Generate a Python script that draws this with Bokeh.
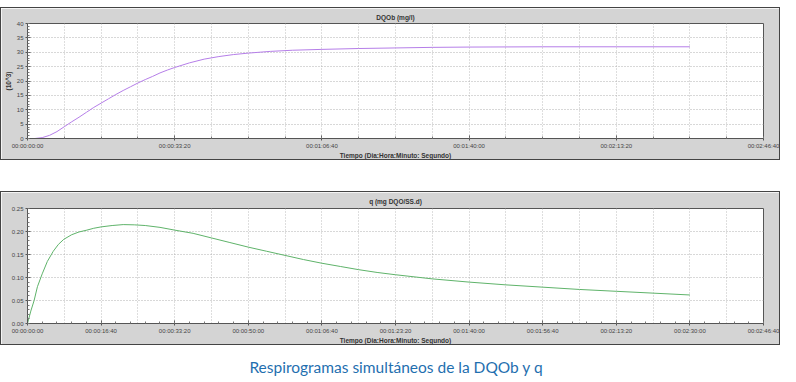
from bokeh.plotting import figure
from bokeh.models import FixedTicker, Range1d, Div, Spacer, PrintfTickFormatter
from bokeh.layouts import column
from bokeh.embed import file_html
from bokeh.resources import INLINE

# ---- data (seconds, values) ----
t_dqo = [0, 100, 200, 300, 400, 500, 600, 700, 800, 900, 1000, 1100, 1200,
         1300, 1400, 1500, 1600, 1700, 1800, 1900, 2000, 2200, 2400, 2600,
         2800, 3000, 3300, 3600, 4000, 4500, 5000, 5500, 6000, 7000, 8000, 9000]
dqo = [0, 0, 0.3, 1.1, 2.4, 4.1, 5.8, 7.4, 9.1, 10.8, 12.3, 13.8, 15.3,
       16.7, 18.0, 19.3, 20.5, 21.6, 22.8, 23.8, 24.7, 26.3, 27.6, 28.5,
       29.2, 29.7, 30.3, 30.7, 31.0, 31.3, 31.5, 31.7, 31.8, 31.9, 31.9, 31.9]

t_q = [0, 45, 90, 135, 200, 270, 350, 420, 493, 600, 700, 807, 900, 1000,
       1150, 1300, 1450, 1600, 1800, 2000, 2250, 2500, 2750, 3000, 3250, 3500,
       3750, 4000, 4250, 4500, 4750, 5000, 5500, 6000, 6500, 7000, 7500, 8000,
       8500, 9000]
q = [0, 0.027, 0.05, 0.08, 0.108, 0.135, 0.157, 0.172, 0.183, 0.193, 0.199,
     0.203, 0.207, 0.210, 0.213, 0.215, 0.2145, 0.213, 0.209, 0.203, 0.196,
     0.186, 0.176, 0.166, 0.157, 0.148, 0.139, 0.131, 0.124, 0.117, 0.111,
     0.106, 0.097, 0.090, 0.084, 0.079, 0.074, 0.070, 0.066, 0.062]

top_xticks = [0, 2000, 4000, 6000, 8000, 10000]
top_xlabels = ["00:00:00:00", "00:00:33:20", "00:01:06:40", "00:01:40:00",
               "00:02:13:20", "00:02:46:40"]
bot_xticks = [0, 1000, 2000, 3000, 4000, 5000, 6000, 7000, 8000, 9000, 10000]
bot_xlabels = ["00:00:00:00", "00:00:16:40", "00:00:33:20", "00:00:50:00",
               "00:01:06:40", "00:01:23:20", "00:01:40:00", "00:01:56:40",
               "00:02:13:20", "00:02:30:00", "00:02:46:40"]
top_yticks = [0, 5, 10, 15, 20, 25, 30, 35, 40]
bot_yticks = [0, 0.05, 0.10, 0.15, 0.20, 0.25]

FONT = "Liberation Sans"
PANEL = "#d4d4d4"


def make_fig(title, ylabel, xticks, xlabels, xminor, yticks, yminor, ymax,
             fw, fh, lb, rb, tb, bb, tstand):
    p = figure(width=fw + lb + rb, height=fh + tb + bb,
               x_range=Range1d(0, 10000), y_range=Range1d(0, ymax),
               output_backend="svg", toolbar_location=None,
               min_border_left=lb, min_border_right=rb,
               min_border_top=tb, min_border_bottom=bb,
               background_fill_color="white", border_fill_color=PANEL,
               outline_line_color="#555555",
               styles={"border": "1px solid #444444"})
    p.title.text = title
    p.title.align = "center"
    p.title.text_font = FONT
    p.title.text_font_size = "6.5px"
    p.title.text_font_style = "bold"
    p.title.text_color = "#333333"
    p.title.standoff = tstand
    p.title.offset = 0

    xa = p.xaxis[0]
    xa.ticker = FixedTicker(ticks=xticks, minor_ticks=xminor)
    xa.major_label_overrides = {t: l for t, l in zip(xticks, xlabels)}
    xa.axis_label = "Tiempo (Dia:Hora:Minuto: Segundo)"
    xa.axis_label_text_font = FONT
    xa.axis_label_text_font_size = "6.5px"
    xa.axis_label_text_font_style = "bold"
    xa.axis_label_text_color = "#333333"
    xa.axis_label_standoff = 0

    ya = p.yaxis[0]
    ya.ticker = FixedTicker(ticks=yticks, minor_ticks=yminor)
    if ylabel:
        ya.axis_label = ylabel
        ya.axis_label_text_font = FONT
        ya.axis_label_text_font_size = "6.5px"
        ya.axis_label_text_font_style = "bold"
        ya.axis_label_text_color = "#333333"
        ya.axis_label_standoff = 2

    for ax in (xa, ya):
        ax.major_label_text_font = FONT
        ax.major_label_text_font_size = "6px"
        ax.major_label_text_color = "#444444"
        ax.major_label_standoff = 2
        ax.axis_line_color = "#555555"
        ax.major_tick_line_color = "#555555"
        ax.minor_tick_line_color = "#777777"
        ax.major_tick_in = 3
        ax.major_tick_out = 2
        ax.minor_tick_in = 2
        ax.minor_tick_out = 0

    p.xgrid.ticker = FixedTicker(ticks=list(range(0, 10001, 500)))
    p.xgrid.grid_line_color = "#bdbdbd"
    p.xgrid.grid_line_dash = "1 2"
    p.ygrid.grid_line_color = "#b0b0b0"
    p.ygrid.grid_line_dash = "1 2"
    return p


p1 = make_fig("DQOb (mg/l)", "(10^3)", top_xticks, top_xlabels,
              list(range(0, 10001, 500)), top_yticks, list(range(0, 41, 1)),
              40, 738, 116, 24, 18, 14, 23, 6)
p1.line(t_dqo, dqo, line_color="#b57ee8", line_width=1)

p2 = make_fig("q (mg DQO/SS.d)", None, bot_xticks, bot_xlabels,
              list(range(0, 10001, 200)), bot_yticks,
              [i / 100 for i in range(0, 26)], 0.25, 741, 115, 21, 18, 16, 23, 7)
p2.yaxis[0].formatter = PrintfTickFormatter(format="%.2f")
p2.line(t_q, q, line_color="#5fb36a", line_width=1)

caption = Div(text="Respirogramas simultáneos de la DQOb y q",
              width=782, height=26,
              styles={"text-align": "center", "color": "#1f6faf",
                      "font-family": "Lato", "font-size": "15.5px",
                      "margin-top": "11px", "width": "782px"})

layout = column(Spacer(height=7), p1, Spacer(height=31), p2, caption,
                spacing=0)

open("out.html", "w").write(file_html(layout, INLINE))
